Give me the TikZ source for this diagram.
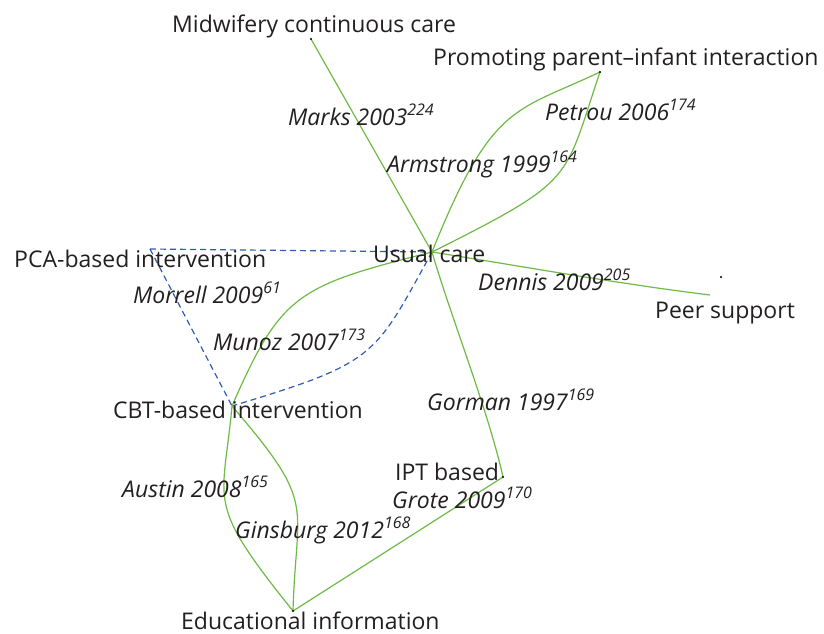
\documentclass[tikz,border=0pt]{standalone}
\usepackage{fontspec}
\setmainfont{Open Sans}
\definecolor{txt}{HTML}{231F20}
\definecolor{lgreen}{HTML}{6DBB45}
\definecolor{dblue}{HTML}{2F5DAE}
\newcommand\supr[1]{\raisebox{0.42em}{\fontsize{16}{16}\selectfont #1}}
\tikzset{
  lbl/.style={anchor=base west, inner sep=0pt, text=txt, font=\fontsize{23}{23}\selectfont},
  study/.style={anchor=base west, inner sep=0pt, text=txt, font=\fontsize{23}{23}\selectfont\itshape},
  gedge/.style={draw=lgreen, line width=1.2pt},
  dedge/.style={draw=dblue, line width=1.2pt, dash pattern=on 6pt off 4pt},
  endpt/.style={circle, fill=black, inner sep=0pt, minimum size=2.4pt}
}
\begin{document}
\begin{tikzpicture}[x=1pt,y=-1pt]
\useasboundingbox (0,0) rectangle (824,634);
% points
\coordinate (hub) at (432,252);
\coordinate (mid) at (311,39);
\coordinate (promo) at (600,72);
\coordinate (pca) at (150,249);
\coordinate (peer) at (721,277);
\coordinate (peerend) at (710,295);
\coordinate (cbt) at (232,406);
\coordinate (ipt) at (503,477);
\coordinate (edu) at (293,611);
% dashed links
\draw[dedge] (pca) -- (hub);
\draw[dedge] (pca) -- (cbt);
\draw[dedge] (hub) .. controls (374,357) and (378,362) .. (cbt);
% green links
\draw[gedge] (hub) -- (mid);
\draw[gedge] (hub) .. controls (492,102) and (516,112) .. (promo);
\draw[gedge] (hub) .. controls (578,179) and (563,181) .. (promo);
\draw[gedge] (hub) .. controls (520,266) and (620,284) .. (peerend);
\draw[gedge] (hub) .. controls (297,286) and (281,294) .. (cbt);
\draw[gedge] (hub) .. controls (452,320) and (488,410) .. (ipt);
\draw[gedge] (cbt) .. controls (223,506) and (204,500) .. (edu);
\draw[gedge] (cbt) .. controls (318,506) and (296,501) .. (edu);
\draw[gedge] (edu) -- (ipt);
% end dots
\foreach \p in {mid,promo,peer,ipt,edu} \node[endpt] (dot-\p) at (\p) {};
% intervention labels
\node[lbl] (l-mid) at (172,33) {Midwifery continuous care};
\node[lbl] (l-promo) at (433,66) {Promoting parent–infant interaction};
\node[lbl] (l-hub) at (373,262) {Usual care};
\node[lbl] (l-pca) at (14,267) {PCA-based intervention};
\node[lbl] (l-peer) at (655,318) {Peer support};
\node[lbl] (l-cbt) at (113,418) {CBT-based intervention};
\node[lbl] (l-ipt) at (395,480) {IPT based};
\node[lbl] (l-edu) at (181,629) {Educational information};
% study labels
\node[study] (s-marks) at (288,125) {Marks 2003\supr{224}};
\node[study] (s-petrou) at (545,120) {Petrou 2006\supr{174}};
\node[study] (s-arm) at (387,172) {Armstrong 1999\supr{164}};
\node[study] (s-dennis) at (478,290) {Dennis 2009\supr{205}};
\node[study] (s-morrell) at (133,303) {Morrell 2009\supr{61}};
\node[study] (s-munoz) at (213,350) {Munoz 2007\supr{173}};
\node[study] (s-gorman) at (427,410) {Gorman 1997\supr{169}};
\node[study] (s-austin) at (122,497) {Austin 2008\supr{165}};
\node[study] (s-gins) at (235,538) {Ginsburg 2012\supr{168}};
\node[study] (s-grote) at (392,508) {Grote 2009\supr{170}};
\end{tikzpicture}
\end{document}
